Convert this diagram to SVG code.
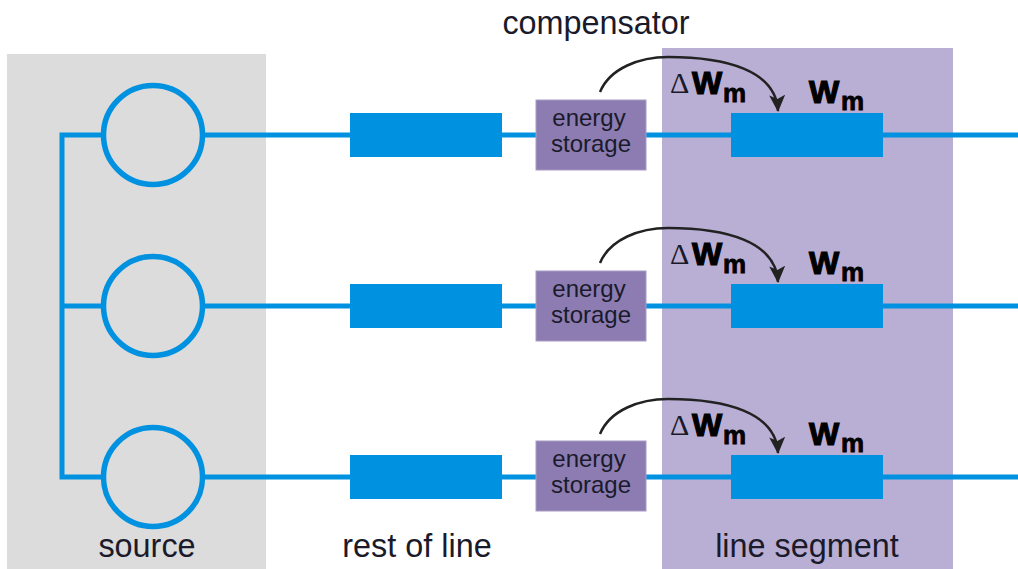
<svg xmlns="http://www.w3.org/2000/svg" width="1018" height="569" viewBox="0 0 1018 569">
<style>
text{font-family:"Liberation Sans",Arial,sans-serif;fill:#1a1a2a}
.lbl{font-size:32.4px;text-anchor:middle}
.st{font-size:24px;text-anchor:middle}
.w{font-weight:bold;font-size:32px;fill:#000;stroke:#000;stroke-width:1.2}
.m{font-weight:bold;font-size:26px;fill:#000;stroke:#000;stroke-width:.8}
.d{font-family:"Liberation Serif",serif;font-size:30px;fill:#1a1a2a}
.wire{fill:none;stroke:#0091e0;stroke-width:5}
.c{fill:none;stroke:#0091e0;stroke-width:5.5}
.b{fill:#0091e0}
.s{fill:#8c7cb2;stroke:#a89bc4;stroke-width:1}
.arc{fill:none;stroke:#222;stroke-width:2.5;marker-end:url(#a)}
</style>
<defs>
<marker id="a" markerUnits="userSpaceOnUse" markerWidth="18" markerHeight="16" refX="16" refY="8" orient="auto" viewBox="0 0 18 16"><path d="M0 0L4 8L0 16L17 8Z" fill="#222"/></marker>
</defs>
<rect id="source-bg" x="7" y="54" width="259" height="515" fill="#dcdcdc"/>
<rect id="segment-bg" x="662" y="48" width="291" height="521" fill="#b9afd4"/>
<g id="connectors">
<path class="wire" d="M102 135H62V477H102M62 306H102"/>
<path class="wire" d="M204 135H1018M204 306H1018M204 477H1018"/>
<path class="arc" d="M600 92C610 68 640 57 668 57C725 57 776 70 778 111"/>
<path class="arc" d="M600 263C610 239 640 228 668 228C725 228 776 241 778 282"/>
<path class="arc" d="M600 434C610 410 640 399 668 399C725 399 776 412 778 453"/>
</g>
<g id="gen1"><circle class="c" cx="153" cy="135" r="49.5"/></g>
<g id="gen2"><circle class="c" cx="153" cy="306" r="49.5"/></g>
<g id="gen3"><circle class="c" cx="153" cy="477" r="49.5"/></g>
<g id="rest1"><rect class="b" x="350" y="113" width="152" height="44"/></g>
<g id="rest2"><rect class="b" x="350" y="284" width="152" height="44"/></g>
<g id="rest3"><rect class="b" x="350" y="455" width="152" height="44"/></g>
<g id="seg1"><rect class="b" x="731" y="113" width="152" height="44"/></g>
<g id="seg2"><rect class="b" x="731" y="284" width="152" height="44"/></g>
<g id="seg3"><rect class="b" x="731" y="455" width="152" height="44"/></g>
<g id="store1"><rect class="s" x="536" y="100" width="110" height="70"/><text class="st" x="589" y="126">energy</text><text class="st" x="591" y="152">storage</text></g>
<g id="store2"><rect class="s" x="536" y="271" width="110" height="70"/><text class="st" x="589" y="297">energy</text><text class="st" x="591" y="323">storage</text></g>
<g id="store3"><rect class="s" x="536" y="441" width="110" height="70"/><text class="st" x="589" y="467">energy</text><text class="st" x="591" y="493">storage</text></g>
<g id="labels1"><text class="d" x="670" y="93">Δ</text><text class="w" x="692" y="94">W</text><text class="m" x="723" y="102">m</text><text class="w" x="809" y="103">W</text><text class="m" x="841" y="110">m</text></g>
<g id="labels2"><text class="d" x="670" y="264">Δ</text><text class="w" x="692" y="265">W</text><text class="m" x="723" y="273">m</text><text class="w" x="809" y="274">W</text><text class="m" x="841" y="281">m</text></g>
<g id="labels3"><text class="d" x="670" y="435">Δ</text><text class="w" x="692" y="436">W</text><text class="m" x="723" y="444">m</text><text class="w" x="809" y="445">W</text><text class="m" x="841" y="452">m</text></g>
<text class="lbl" x="596" y="34">compensator</text>
<text class="lbl" x="147" y="557">source</text>
<text class="lbl" x="417" y="557">rest of line</text>
<text class="lbl" x="807" y="557">line segment</text>
</svg>
